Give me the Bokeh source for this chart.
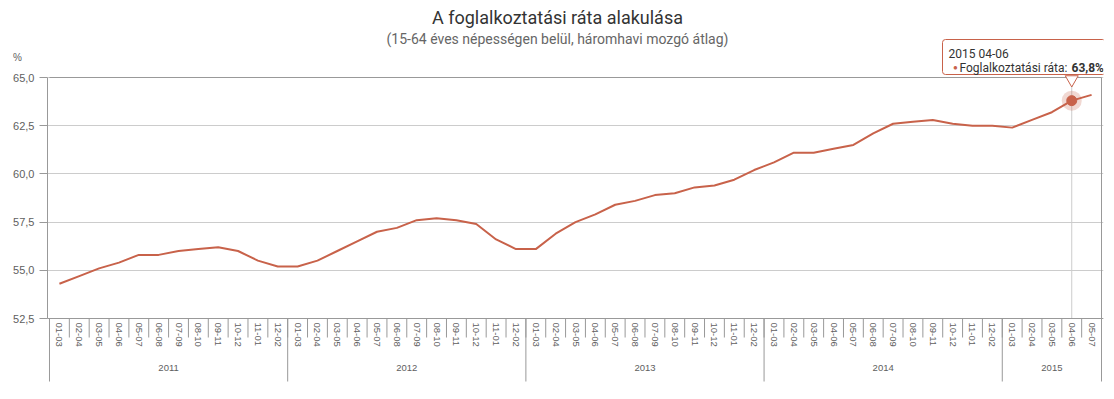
from bokeh.plotting import figure
from bokeh.models import (FactorRange, Range1d, CategoricalAxis, FixedTicker,
                          CustomJSTickFormatter, Label, ColumnDataSource)
from bokeh.embed import file_html
from bokeh.resources import INLINE

# ---------------- data ----------------
title_text = "A foglalkoztatási ráta alakulása"
subtitle_text = "(15-64 éves népességen belül, háromhavi mozgó átlag)"
y_unit = "%"
series_name = "Foglalkoztatási ráta"

periods = ["01-03", "02-04", "03-05", "04-06", "05-07", "06-08",
           "07-09", "08-10", "09-11", "10-12", "11-01", "12-02"]
years = ["2011", "2012", "2013", "2014", "2015"]
periods_per_year = [12, 12, 12, 12, 5]

values_2011 = [54.3, 54.7, 55.1, 55.4, 55.8, 55.8, 56.0, 56.1, 56.2, 56.0, 55.5, 55.2]
values_2012 = [55.2, 55.5, 56.0, 56.5, 57.0, 57.2, 57.6, 57.7, 57.6, 57.4, 56.6, 56.1]
values_2013 = [56.1, 56.9, 57.5, 57.9, 58.4, 58.6, 58.9, 59.0, 59.3, 59.4, 59.7, 60.2]
values_2014 = [60.6, 61.1, 61.1, 61.3, 61.5, 62.1, 62.6, 62.7, 62.8, 62.6, 62.5, 62.5]
values_2015 = [62.4, 62.8, 63.2, 63.8, 64.1]

y_ticks = [52.5, 55.0, 57.5, 60.0, 62.5, 65.0]
highlight = ("2015", "04-06")

# ---------------- layout constants (pixels) ----------------
W, H = 1114, 399
PLOT_L, PLOT_R = 48, 1102      # plot area left / right edge
PLOT_T, PLOT_B = 77, 318       # plot area top / bottom edge

LINE = "#c8624a"
AXIS = "#999999"
GRID = "#cccccc"
LABEL = "#606060"
FONT = "Liberation Sans"
TFONT = "Roboto"

# ---------------- build ----------------
factors, values = [], []
for yr, n, vals in zip(years, periods_per_year,
                       [values_2011, values_2012, values_2013, values_2014, values_2015]):
    for per, v in zip(periods[:n], vals):
        factors.append((yr, per))
        values.append(v)
n_cat = len(factors)
bounds = [0]
for n in periods_per_year:
    bounds.append(bounds[-1] + n)

y_lo, y_hi = y_ticks[0], y_ticks[-1]
ppu = (PLOT_B - PLOT_T) / (y_hi - y_lo)          # px per y unit
ppx = (PLOT_R - PLOT_L) / n_cat                   # px per category


def y_of(page_y):
    return y_hi - (page_y - PLOT_T) / ppu


def x_of(page_x):
    return (page_x - PLOT_L) / ppx


pad = 0.1
x_range = FactorRange(*factors, factor_padding=0, group_padding=0, subgroup_padding=0,
                      range_padding=pad, range_padding_units="absolute")
left_b = int(round(PLOT_L - pad / 2 * ppx))
right_b = int(round(W - PLOT_R - pad / 2 * ppx))

p = figure(width=W, height=H, x_range=x_range, y_range=Range1d(y_of(H), y_of(0)),
           output_backend="svg", toolbar_location=None, title=None,
           x_axis_location=None, y_axis_location="left",
           min_border_left=left_b, min_border_right=right_b,
           min_border_top=0, min_border_bottom=0)
p.background_fill_color = "white"
p.border_fill_color = "white"
p.outline_line_color = None
p.xgrid.visible = False

# y axis
p.yaxis.ticker = FixedTicker(ticks=y_ticks)
p.ygrid.ticker = FixedTicker(ticks=y_ticks)
p.yaxis.bounds = (y_lo, y_hi)
p.yaxis.formatter = CustomJSTickFormatter(code="return tick.toFixed(1).replace('.', ',');")
p.yaxis.major_tick_out = 8
p.yaxis.major_tick_in = 0
p.yaxis.minor_tick_out = 0
p.yaxis.minor_tick_in = 0
p.yaxis.axis_line_color = AXIS
p.yaxis.major_tick_line_color = AXIS
p.yaxis.major_label_standoff = 5
p.yaxis.major_label_text_font = FONT
p.yaxis.major_label_text_font_size = "11px"
p.yaxis.major_label_text_color = LABEL
p.ygrid.grid_line_color = GRID

# category axis (periods) at the bottom of the plot area
ax_per = CategoricalAxis(fixed_location=y_lo, major_tick_out=0, major_tick_in=0,
                         axis_line_color=AXIS, major_label_orientation="vertical",
                         major_label_standoff=4, major_label_text_font=FONT,
                         major_label_text_font_size="9.5px", major_label_text_color=LABEL,
                         group_text_color=None, separator_line_color=None)
# year labels
ax_year = CategoricalAxis(fixed_location=y_of(PLOT_B + 46), major_tick_out=0, major_tick_in=0,
                          axis_line_color=None, major_label_text_color=None,
                          major_label_standoff=0, group_text_font=FONT,
                          group_text_font_size="9.5px", group_text_color=LABEL,
                          group_text_font_style="normal", separator_line_color=None)
p.add_layout(ax_per, "below")
p.add_layout(ax_year, "below")

# separators between categories and between years
p.segment(x0=list(range(n_cat + 1)), y0=[y_lo] * (n_cat + 1),
          x1=list(range(n_cat + 1)), y1=[y_of(PLOT_B + 19)] * (n_cat + 1),
          line_color=AXIS, line_width=1)
p.segment(x0=bounds, y0=[y_lo] * len(bounds), x1=bounds,
          y1=[y_of(PLOT_B + 63)] * len(bounds), line_color=AXIS, line_width=1)

# plot area border (top and right)
p.segment(x0=[0], y0=[y_hi], x1=[n_cat], y1=[y_hi], line_color=AXIS, line_width=1)
p.segment(x0=[n_cat], y0=[y_lo], x1=[n_cat], y1=[y_hi], line_color=AXIS, line_width=1)

# series
src = ColumnDataSource(dict(x=factors, y=values))
hv = values[factors.index(highlight)]

p.segment(x0=[highlight], y0=[y_lo], x1=[highlight], y1=[y_hi],
          line_color="#cccccc", line_width=1)
p.line(x="x", y="y", source=src, line_color=LINE, line_width=2)
p.scatter(x=[highlight], y=[hv], size=20, fill_color=LINE, fill_alpha=0.25, line_color=None)
p.scatter(x=[highlight], y=[hv], size=10, fill_color=LINE, line_color=LINE)

# tooltip pointer
p.scatter(x=[highlight], y=[y_of(79)], marker="inverted_triangle", size=13,
          fill_color="white", line_color=LINE, line_width=1)


def lab(text, px, py, size, color, align="left", style="normal", font=TFONT, **kw):
    return Label(x=px - PLOT_L + 1, y=H - py, x_units="screen", y_units="screen", text=text,
                 text_align=align, text_baseline="middle", text_font=font,
                 text_font_size=size, text_color=color, text_font_style=style, **kw)


# titles
p.add_layout(lab(title_text, 557, 17, "18px", "#333333", align="center"))
p.add_layout(lab(subtitle_text, 557, 38, "14px", "#666666", align="center"))

# unit label left of the value axis
p.add_layout(Label(x=x_of(16), y=y_of(57), text=y_unit, text_align="center",
                   text_baseline="middle", text_font=FONT, text_font_size="10px",
                   text_color=LABEL), "left")

# tooltip (padding: left, right, top, bottom)
val_txt = f"{hv:.1f}".replace(".", ",") + "%"
p.add_layout(lab(f"{highlight[0]} {highlight[1]}", 942, 56.5, "12px", "#333333",
                 background_fill_color="white", background_fill_alpha=0.92,
                 border_line_color=LINE, border_line_width=1,
                 padding=(6, 97, 7, 14), border_radius=3))
p.add_layout(lab("●", 955, 67, "8px", LINE, align="center"))
p.add_layout(lab(f"{series_name}:", 959, 67, "12px", "#333333"))
p.add_layout(lab(val_txt, 1071, 67, "12px", "#333333", style="bold"))

open("out.html", "w").write(file_html(p, INLINE))
